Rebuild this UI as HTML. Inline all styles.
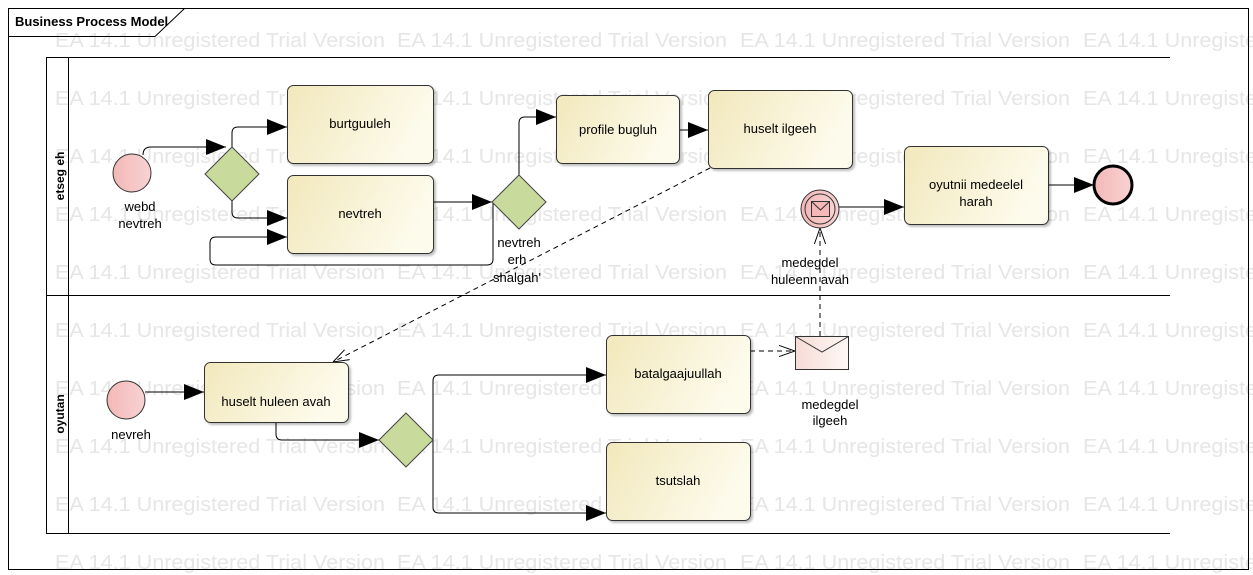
<!DOCTYPE html>
<html><head><meta charset="utf-8"><style>
html,body{margin:0;padding:0;background:#fff;}
svg{display:block;font-family:"Liberation Sans",sans-serif;}
</style></head><body>
<svg width="1253" height="575" viewBox="0 0 1253 575" xmlns="http://www.w3.org/2000/svg">
<defs>
<linearGradient id="tg" x1="0" y1="0" x2="1" y2="0.3"><stop offset="0" stop-color="#f2e8bc"/><stop offset="1" stop-color="#fdfbec"/></linearGradient>
<linearGradient id="cg" x1="0" y1="0" x2="1" y2="0"><stop offset="0" stop-color="#f4b8b8"/><stop offset="1" stop-color="#f8d2d2"/></linearGradient>
<linearGradient id="eg" x1="0" y1="0" x2="1" y2="0"><stop offset="0" stop-color="#f6dcd6"/><stop offset="1" stop-color="#fff8f4"/></linearGradient>
<marker id="a" viewBox="0 0 20 20" refX="20" refY="10" markerWidth="20" markerHeight="20" markerUnits="userSpaceOnUse" orient="auto"><path d="M0,2 L20,10 L0,18 Z" fill="#000"/></marker>
<marker id="o" viewBox="0 0 20 20" refX="20" refY="10" markerWidth="16" markerHeight="16" markerUnits="userSpaceOnUse" orient="auto"><path d="M0,3 L20,10 L0,17" fill="none" stroke="#000" stroke-width="1.2"/></marker>
<filter id="sh" x="-5%" y="-5%" width="115%" height="115%"><feDropShadow dx="2" dy="2" stdDeviation="1" flood-color="#000" flood-opacity="0.25"/></filter>
</defs>
<g fill="#e6e6e6" font-size="20">
<text x="55" y="47" textLength="330" lengthAdjust="spacingAndGlyphs">EA 14.1 Unregistered Trial Version</text><text x="397" y="47" textLength="330" lengthAdjust="spacingAndGlyphs">EA 14.1 Unregistered Trial Version</text><text x="740" y="47" textLength="330" lengthAdjust="spacingAndGlyphs">EA 14.1 Unregistered Trial Version</text><text x="1083" y="47" textLength="330" lengthAdjust="spacingAndGlyphs">EA 14.1 Unregistered Trial Version</text>
<text x="55" y="105" textLength="330" lengthAdjust="spacingAndGlyphs">EA 14.1 Unregistered Trial Version</text><text x="397" y="105" textLength="330" lengthAdjust="spacingAndGlyphs">EA 14.1 Unregistered Trial Version</text><text x="740" y="105" textLength="330" lengthAdjust="spacingAndGlyphs">EA 14.1 Unregistered Trial Version</text><text x="1083" y="105" textLength="330" lengthAdjust="spacingAndGlyphs">EA 14.1 Unregistered Trial Version</text>
<text x="55" y="163" textLength="330" lengthAdjust="spacingAndGlyphs">EA 14.1 Unregistered Trial Version</text><text x="397" y="163" textLength="330" lengthAdjust="spacingAndGlyphs">EA 14.1 Unregistered Trial Version</text><text x="740" y="163" textLength="330" lengthAdjust="spacingAndGlyphs">EA 14.1 Unregistered Trial Version</text><text x="1083" y="163" textLength="330" lengthAdjust="spacingAndGlyphs">EA 14.1 Unregistered Trial Version</text>
<text x="55" y="221" textLength="330" lengthAdjust="spacingAndGlyphs">EA 14.1 Unregistered Trial Version</text><text x="397" y="221" textLength="330" lengthAdjust="spacingAndGlyphs">EA 14.1 Unregistered Trial Version</text><text x="740" y="221" textLength="330" lengthAdjust="spacingAndGlyphs">EA 14.1 Unregistered Trial Version</text><text x="1083" y="221" textLength="330" lengthAdjust="spacingAndGlyphs">EA 14.1 Unregistered Trial Version</text>
<text x="55" y="279" textLength="330" lengthAdjust="spacingAndGlyphs">EA 14.1 Unregistered Trial Version</text><text x="397" y="279" textLength="330" lengthAdjust="spacingAndGlyphs">EA 14.1 Unregistered Trial Version</text><text x="740" y="279" textLength="330" lengthAdjust="spacingAndGlyphs">EA 14.1 Unregistered Trial Version</text><text x="1083" y="279" textLength="330" lengthAdjust="spacingAndGlyphs">EA 14.1 Unregistered Trial Version</text>
<text x="55" y="337" textLength="330" lengthAdjust="spacingAndGlyphs">EA 14.1 Unregistered Trial Version</text><text x="397" y="337" textLength="330" lengthAdjust="spacingAndGlyphs">EA 14.1 Unregistered Trial Version</text><text x="740" y="337" textLength="330" lengthAdjust="spacingAndGlyphs">EA 14.1 Unregistered Trial Version</text><text x="1083" y="337" textLength="330" lengthAdjust="spacingAndGlyphs">EA 14.1 Unregistered Trial Version</text>
<text x="55" y="395" textLength="330" lengthAdjust="spacingAndGlyphs">EA 14.1 Unregistered Trial Version</text><text x="397" y="395" textLength="330" lengthAdjust="spacingAndGlyphs">EA 14.1 Unregistered Trial Version</text><text x="740" y="395" textLength="330" lengthAdjust="spacingAndGlyphs">EA 14.1 Unregistered Trial Version</text><text x="1083" y="395" textLength="330" lengthAdjust="spacingAndGlyphs">EA 14.1 Unregistered Trial Version</text>
<text x="55" y="453" textLength="330" lengthAdjust="spacingAndGlyphs">EA 14.1 Unregistered Trial Version</text><text x="397" y="453" textLength="330" lengthAdjust="spacingAndGlyphs">EA 14.1 Unregistered Trial Version</text><text x="740" y="453" textLength="330" lengthAdjust="spacingAndGlyphs">EA 14.1 Unregistered Trial Version</text><text x="1083" y="453" textLength="330" lengthAdjust="spacingAndGlyphs">EA 14.1 Unregistered Trial Version</text>
<text x="55" y="511" textLength="330" lengthAdjust="spacingAndGlyphs">EA 14.1 Unregistered Trial Version</text><text x="397" y="511" textLength="330" lengthAdjust="spacingAndGlyphs">EA 14.1 Unregistered Trial Version</text><text x="740" y="511" textLength="330" lengthAdjust="spacingAndGlyphs">EA 14.1 Unregistered Trial Version</text><text x="1083" y="511" textLength="330" lengthAdjust="spacingAndGlyphs">EA 14.1 Unregistered Trial Version</text>
<text x="55" y="569" textLength="330" lengthAdjust="spacingAndGlyphs">EA 14.1 Unregistered Trial Version</text><text x="397" y="569" textLength="330" lengthAdjust="spacingAndGlyphs">EA 14.1 Unregistered Trial Version</text><text x="740" y="569" textLength="330" lengthAdjust="spacingAndGlyphs">EA 14.1 Unregistered Trial Version</text><text x="1083" y="569" textLength="330" lengthAdjust="spacingAndGlyphs">EA 14.1 Unregistered Trial Version</text>
</g>
<rect x="8.5" y="8.5" width="1240" height="561" fill="none" stroke="#000"/>
<path d="M8.5,36.5 H155 L184.5,8.5" fill="none" stroke="#000"/>
<text x="15" y="26" font-size="13" font-weight="bold">Business Process Model</text>
<g stroke="#000" fill="none">
<path d="M1170,57.5 H46.5 V533.5 H1170"/>
<path d="M68.5,57.5 V533.5"/>
<path d="M46.5,295.5 H1170"/>
</g>
<text transform="translate(64,176) rotate(-90)" font-size="12" font-weight="bold" text-anchor="middle">etseg eh</text>
<text transform="translate(64,414) rotate(-90)" font-size="12" font-weight="bold" text-anchor="middle">oyutan</text>
<g stroke="#000" stroke-width="1" fill="none">
<path d="M143,155 Q143,147 151,147 L226,147" marker-end="url(#a)"/>
<path d="M232,147 L232,133 Q232,127 238,127 L287,127" marker-end="url(#a)"/>
<path d="M232,201 L232,212 Q232,218 238,218 L287,218" marker-end="url(#a)"/>
<path d="M493,203 L493,259 Q493,265 487,265 L216,265 Q210,265 210,259 L210,243 Q210,237 216,237 L287,237" marker-end="url(#a)"/>
<path d="M433,202 L492,202" marker-end="url(#a)"/>
<path d="M519,175 L519,123 Q519,117 525,117 L556,117" marker-end="url(#a)"/>
<path d="M679,130 L708,130" marker-end="url(#a)"/>
<path d="M839,207 L904,207" marker-end="url(#a)"/>
<path d="M1048,185 L1094,185" marker-end="url(#a)"/>
<path d="M145,392 L204,392" marker-end="url(#a)"/>
<path d="M276,422 L276,434 Q276,440 282,440 L379,440" marker-end="url(#a)"/>
<path d="M433,440 L433,381 Q433,375 439,375 L606,375" marker-end="url(#a)"/>
<path d="M433,440 L433,507 Q433,513 439,513 L606,513" marker-end="url(#a)"/>
<path d="M710,168 L333,362" stroke-dasharray="5,4" marker-end="url(#o)"/>
<path d="M820,336 L820,228" stroke-dasharray="5,4" marker-end="url(#o)"/>
<path d="M750,351 L795,351" stroke-dasharray="5,4" marker-end="url(#o)"/>
</g>
<g stroke="#333" fill="url(#tg)" filter="url(#sh)">
<rect x="287.5" y="85.5" width="146" height="78" rx="6"/>
<rect x="287.5" y="175.5" width="146" height="78" rx="6"/>
<rect x="556.5" y="95.5" width="123" height="68" rx="6"/>
<rect x="708.5" y="90.5" width="144" height="78" rx="6"/>
<rect x="904.5" y="146.5" width="144" height="78" rx="6"/>
<rect x="204.5" y="362.5" width="144" height="60" rx="6"/>
<rect x="606.5" y="335.5" width="144" height="78" rx="6"/>
<rect x="606.5" y="442.5" width="144" height="78" rx="6"/>
</g>
<g stroke="#444" fill="#c8da9c">
<path d="M232,147 L259,174 L232,201 L205,174 Z"/>
<path d="M519,175 L546,202 L519,229 L492,202 Z"/>
<path d="M406,413 L433,440 L406,467 L379,440 Z"/>
</g>
<g stroke="#333" fill="url(#cg)">
<circle cx="132" cy="173" r="19"/>
<circle cx="126" cy="400" r="19"/>
<circle cx="1113" cy="185" r="19" stroke="#000" stroke-width="3"/>
<circle cx="820" cy="209" r="19"/>
<circle cx="820" cy="209" r="15"/>
</g>
<rect x="811.5" y="201.5" width="18" height="15" fill="#f4b8b8" stroke="#333"/>
<path d="M811.5,201.5 L820.5,210 L829.5,201.5" fill="none" stroke="#333"/>
<rect x="795.5" y="336.5" width="53" height="33" fill="url(#eg)" stroke="#333"/>
<path d="M795.5,336.5 L822,352 L848.5,336.5" fill="none" stroke="#333"/>
<g font-size="13" text-anchor="middle" fill="#000">
<text x="360" y="128">burtguuleh</text>
<text x="360" y="218">nevtreh</text>
<text x="618" y="134">profile bugluh</text>
<text x="780" y="133">huselt ilgeeh</text>
<text x="976" y="189">oyutnii medeelel</text>
<text x="976" y="206">harah</text>
<text x="276" y="406">huselt huleen avah</text>
<text x="678" y="378">batalgaajuullah</text>
<text x="678" y="485">tsutslah</text>
<text x="140" y="211">webd</text>
<text x="140" y="228">nevtreh</text>
<text x="519" y="247">nevtreh</text>
<text x="517" y="264">erh</text>
<text x="517" y="282">shalgah'</text>
<text x="810" y="267">medegdel</text>
<text x="810" y="284">huleenn avah</text>
<text x="830" y="409">medegdel</text>
<text x="830" y="425">ilgeeh</text>
<text x="131" y="439">nevreh</text>
</g>
</svg>
</body></html>
